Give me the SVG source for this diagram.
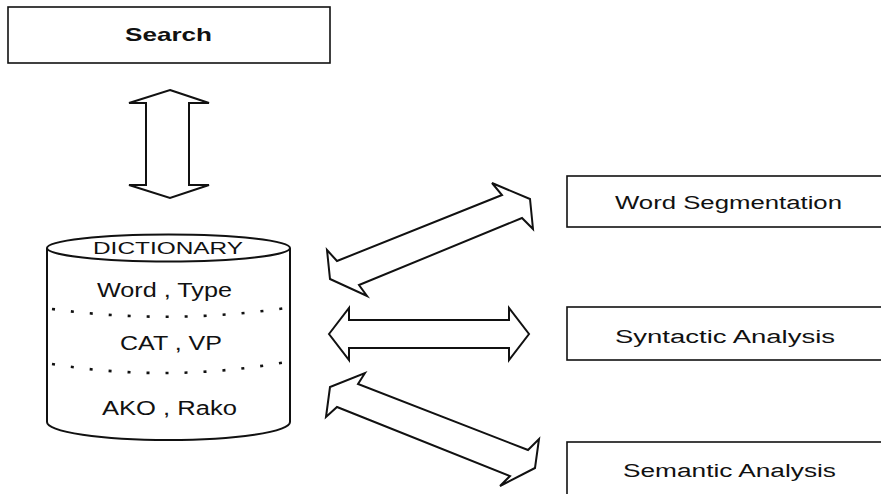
<svg xmlns="http://www.w3.org/2000/svg" width="881" height="494" viewBox="0 0 881 494">
  <style>
    .box { fill: #fff; stroke: #111; stroke-width: 1.6; }
    .shape { fill: #fff; stroke: #111; stroke-width: 2; stroke-linejoin: miter; }
    .dots { fill: none; stroke: #111; stroke-width: 2.6; stroke-dasharray: 3 16; stroke-linecap: butt; }
    .lbl { font-family: "Liberation Sans", Arial, sans-serif; fill: #111; }
    .arrow { fill: #fff; stroke: #111; stroke-width: 2; stroke-linejoin: miter; }
  </style>
  <rect width="881" height="494" fill="#fff"/>

  <g id="search">
    <rect class="box" x="8" y="7" width="322" height="56"/>
    <text class="lbl" x="125" y="41" font-size="19" font-weight="bold" textLength="87" lengthAdjust="spacingAndGlyphs">Search</text>
  </g>

  <g id="dictionary">
    <path class="shape" d="M47,248 L47,422 A121.5,18 0 0 0 290,422 L290,248"/>
    <ellipse class="shape" cx="168.5" cy="248" rx="121.5" ry="13.5"/>
    <path class="dots" d="M52,309 Q168,325 286,308"/>
    <path class="dots" d="M52,364 Q168,383 286,362"/>
    <text class="lbl" x="93" y="254" font-size="16.5" textLength="150" lengthAdjust="spacingAndGlyphs">DICTIONARY</text>
    <text class="lbl" x="97" y="297" font-size="20" textLength="135" lengthAdjust="spacingAndGlyphs">Word , Type</text>
    <text class="lbl" x="120" y="350" font-size="20" textLength="102" lengthAdjust="spacingAndGlyphs">CAT , VP</text>
    <text class="lbl" x="102" y="415" font-size="20" textLength="135" lengthAdjust="spacingAndGlyphs">AKO , Rako</text>
  </g>

  <g id="word-segmentation">
    <rect class="box" x="567" y="176" width="330" height="51"/>
    <text class="lbl" x="615" y="209" font-size="18" textLength="227" lengthAdjust="spacingAndGlyphs">Word Segmentation</text>
  </g>

  <g id="syntactic-analysis">
    <rect class="box" x="567" y="307" width="330" height="53"/>
    <text class="lbl" x="615" y="343" font-size="18" textLength="220" lengthAdjust="spacingAndGlyphs">Syntactic Analysis</text>
  </g>

  <g id="semantic-analysis">
    <rect class="box" x="567" y="442" width="330" height="60"/>
    <text class="lbl" x="623" y="477" font-size="18" textLength="213" lengthAdjust="spacingAndGlyphs">Semantic Analysis</text>
  </g>

  <g id="connectors">
    <!-- search <-> dictionary -->
    <polygon class="arrow" points="170,90 209,103 189,103 189,185 209,185 170,198 129,185 146,185 146,103 129,103"/>
    <!-- dictionary <-> word segmentation -->
    <polygon class="arrow" points="337,261 502,195 492,183 530,199 533,229 522,218 359,285 367,296 330,279 327,250"/>
    <!-- dictionary <-> syntactic analysis -->
    <polygon class="arrow" points="329,334 349,308 349,320 509,320 509,308 529,334 509,360 509,348 349,348 349,360"/>
    <!-- dictionary <-> semantic analysis -->
    <polygon class="arrow" points="365,373 358,384 528,450 539,439 535,468 500,486 510,476 337,407 326,417 330,387"/>
  </g>
</svg>
